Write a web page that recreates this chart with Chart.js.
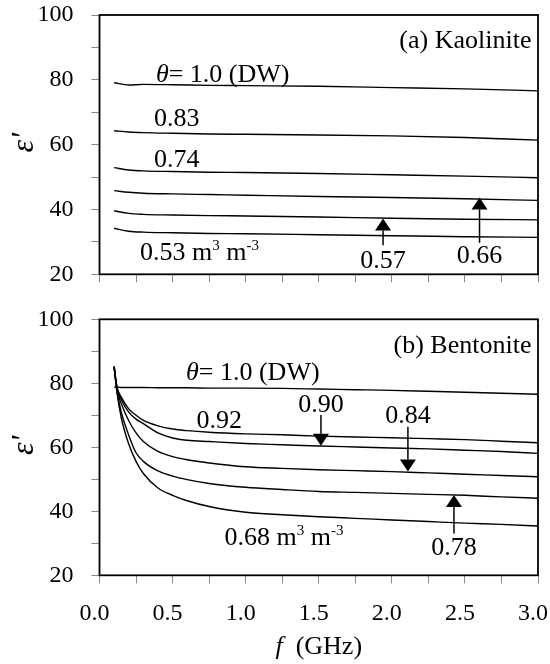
<!DOCTYPE html>
<html>
<head>
<meta charset="utf-8">
<script src="https://cdn.jsdelivr.net/npm/chart.js@4.4.1/dist/chart.umd.min.js"></script>
<style>
  body { margin: 0; background: #fff; }
  #wrap { position: relative; width: 550px; height: 664px; }
  canvas { position: absolute; left: 0; }
</style>
</head>
<body>
<div id="wrap">
  <canvas id="kao" width="550" height="300" style="top:0"></canvas>
  <canvas id="ben" width="550" height="364" style="top:300px"></canvas>
</div>
<script>
// (a) Kaolinite, permittivity vs frequency (GHz)
const kaoFreq = [0.1, 0.2, 0.3, 0.5, 0.75, 1.0, 1.5, 2.0, 2.5, 3.0];
const kaoDW  = [79.1, 78.4, 78.6, 78.5, 78.3, 78.2, 78.0, 77.6, 77.2, 76.6];
const kao083 = [64.3, 63.9, 63.7, 63.5, 63.3, 63.2, 63.0, 62.7, 62.2, 61.4];
const kao074 = [52.9, 52.2, 51.9, 51.7, 51.5, 51.4, 51.1, 50.7, 50.3, 49.8];
const kao066 = [45.8, 45.3, 45.0, 44.8, 44.6, 44.4, 44.0, 43.7, 43.3, 42.8];
const kao057 = [39.6, 38.8, 38.5, 38.3, 38.1, 38.0, 37.7, 37.3, 37.0, 36.8];
const kao053 = [34.2, 33.3, 33.0, 32.8, 32.6, 32.5, 32.2, 31.9, 31.6, 31.4];

// (b) Bentonite
const benFreq = [0.1, 0.12, 0.15, 0.2, 0.25, 0.3, 0.4, 0.5, 0.6, 0.75, 1.0, 1.25, 1.5, 1.75, 2.0, 2.25, 2.5, 2.75, 3.0];
const benDW  = [78.8, 78.8, 78.7, 78.7, 78.7, 78.7, 78.6, 78.6, 78.6, 78.5, 78.5, 78.4, 78.2, 78.0, 77.8, 77.5, 77.2, 76.9, 76.6];
const ben092 = [85.2, 78.8, 75.6, 72.0, 70.0, 68.4, 66.7, 65.7, 65.2, 64.7, 64.2, 63.9, 63.5, 63.2, 63.0, 62.7, 62.4, 61.9, 61.4];
const ben090 = [85.2, 78.5, 74.8, 71.0, 68.8, 67.4, 64.5, 62.9, 62.2, 61.8, 61.2, 60.8, 60.4, 60.1, 59.8, 59.5, 59.1, 58.7, 58.1];
const ben084 = [85.2, 78.0, 73.5, 68.3, 64.5, 61.8, 58.7, 57.1, 56.1, 55.1, 53.9, 53.4, 53.0, 52.7, 52.4, 52.0, 51.6, 51.2, 50.8];
const ben078 = [85.2, 77.4, 70.8, 63.8, 58.3, 55.6, 52.6, 51.0, 49.9, 48.7, 47.5, 46.8, 46.2, 45.9, 45.6, 45.3, 45.0, 44.5, 44.1];
const ben068 = [85.2, 77.0, 69.0, 61.0, 55.6, 51.8, 47.3, 45.0, 43.3, 41.5, 39.7, 38.9, 38.3, 37.8, 37.3, 36.8, 36.3, 35.9, 35.4];

const yTicks = [20, 40, 60, 80, 100];
const xTicks = [0.0, 0.5, 1.0, 1.5, 2.0, 2.5, 3.0];

const SERIF = '"Liberation Serif", "Times New Roman", serif';

function fontOf(p) {
  return (p.italic ? 'italic ' : '') + (p.sup ? 15 : 26) + 'px ' + SERIF;
}

function drawRich(ctx, x, y, parts, align) {
  const widths = parts.map(p => { ctx.font = fontOf(p); return ctx.measureText(p.t).width; });
  const total = widths.reduce((a, b) => a + b, 0);
  let cx = align === 'center' ? x - total / 2 : align === 'right' ? x - total : x;
  ctx.textAlign = 'left';
  ctx.textBaseline = 'alphabetic';
  parts.forEach((p, i) => {
    ctx.font = fontOf(p);
    ctx.fillText(p.t, cx, p.sup ? y - 10 : y);
    cx += widths[i];
  });
}

function drawArrow(ctx, xs, ys, a) {
  const px = xs.getPixelForValue(a.x);
  const y0 = ys.getPixelForValue(a.from);
  const y1 = ys.getPixelForValue(a.to);
  const dir = Math.sign(y1 - y0);
  const hl = 12, hw = 8;
  ctx.beginPath();
  ctx.moveTo(px, y0);
  ctx.lineTo(px, y1 - dir * hl);
  ctx.stroke();
  ctx.beginPath();
  ctx.moveTo(px, y1);
  ctx.lineTo(px - hw, y1 - dir * hl);
  ctx.lineTo(px + hw, y1 - dir * hl);
  ctx.closePath();
  ctx.fill();
}

const theta = [{ t: '\u03b8', italic: true }, { t: '= 1.0 (DW)' }];
const units = v => [{ t: v + ' m' }, { t: '3', sup: true }, { t: ' m' }, { t: '-3', sup: true }];

const kaoNotes = [
  { x: 2.955, y: 89.8, align: 'right', parts: [{ t: '(a) Kaolinite' }] },
  { x: 0.386, y: 79.3, align: 'left', parts: theta },
  { x: 0.373, y: 65.7, align: 'left', parts: [{ t: '0.83' }] },
  { x: 0.373, y: 53.2, align: 'left', parts: [{ t: '0.74' }] },
  { x: 0.277, y: 24.4, align: 'left', parts: units('0.53') },
  { x: 1.94, y: 21.9, align: 'center', parts: [{ t: '0.57' }] },
  { x: 2.60, y: 23.5, align: 'center', parts: [{ t: '0.66' }] }
];
const kaoArrows = [
  { x: 1.94, from: 29.0, to: 37.2 },
  { x: 2.60, from: 29.7, to: 43.7 }
];

const benNotes = [
  { x: 2.955, y: 89.4, align: 'right', parts: [{ t: '(b) Bentonite' }] },
  { x: 0.592, y: 81.0, align: 'left', parts: theta },
  { x: 0.663, y: 65.9, align: 'left', parts: [{ t: '0.92' }] },
  { x: 1.515, y: 71.1, align: 'center', parts: [{ t: '0.90' }] },
  { x: 2.11, y: 67.7, align: 'center', parts: [{ t: '0.84' }] },
  { x: 2.425, y: 26.3, align: 'center', parts: [{ t: '0.78' }] },
  { x: 0.856, y: 29.5, align: 'left', parts: units('0.68') }
];
const benArrows = [
  { x: 1.515, from: 70.1, to: 60.5 },
  { x: 2.11, from: 66.4, to: 52.4 },
  { x: 2.425, from: 33.1, to: 45.1 }
];

function notesPlugin(notes, arrows, xTitle) {
  return {
    id: 'notes',
    afterDraw(chart) {
      const ctx = chart.ctx;
      const a = chart.chartArea;
      const xs = chart.scales.x, ys = chart.scales.y;
      ctx.save();
      ctx.strokeStyle = '#000';
      ctx.fillStyle = '#000';
      ctx.lineWidth = 1.8;
      ctx.strokeRect(a.left, a.top, a.right - a.left, a.bottom - a.top);
      ctx.lineWidth = 1.5;
      arrows.forEach(ar => drawArrow(ctx, xs, ys, ar));
      notes.forEach(n => drawRich(ctx, xs.getPixelForValue(n.x), ys.getPixelForValue(n.y), n.parts, n.align));

      // y title: epsilon prime, rotated
      ctx.save();
      ctx.translate(33, (a.top + a.bottom) / 2 - 2);
      ctx.rotate(-Math.PI / 2);
      ctx.textAlign = 'center';
      ctx.textBaseline = 'alphabetic';
      ctx.font = 'italic 32px ' + SERIF;
      ctx.fillText("\u03b5'", 0, 0);
      ctx.restore();

      if (xTitle) {
        drawRich(ctx, (a.left + a.right) / 2, 354, [{ t: 'f', italic: true }, { t: '  (GHz)' }], 'center');
      }
      ctx.restore();
    }
  };
}

function makeChart(id, freq, series, showX, pad, xAxisH, notes, arrows) {
  const tickFont = { family: SERIF, size: 24 };
  return new Chart(document.getElementById(id), {
    type: 'line',
    data: {
      datasets: series.map(s => ({
        data: freq.map((f, i) => ({ x: f, y: s[i] })),
        borderColor: '#000',
        borderWidth: 1.4,
        pointRadius: 0,
        cubicInterpolationMode: 'monotone',
        fill: false
      }))
    },
    options: {
      responsive: false,
      animation: false,
      events: [],
      layout: { padding: pad },
      plugins: { legend: { display: false }, tooltip: { enabled: false } },
      scales: {
        x: {
          type: 'linear', min: 0, max: 3,
          ticks: {
            stepSize: 0.25, autoSkip: false, maxRotation: 0, font: tickFont, color: '#000', padding: 16,
            labelOffset: -5,
            callback: v => (showX && xTicks.includes(v)) ? v.toFixed(1) : ''
          },
          grid: { drawOnChartArea: false, tickLength: 8, color: '#888' },
          border: { display: false },
          afterFit: s => { s.height = xAxisH; s.paddingLeft = 0; s.paddingRight = 0; }
        },
        y: {
          min: 20, max: 100,
          ticks: {
            stepSize: 10, autoSkip: false, font: tickFont, color: '#000', padding: 18,
            callback: v => yTicks.includes(v) ? v : ''
          },
          grid: { drawOnChartArea: false, tickLength: 8, color: '#888' },
          border: { display: false },
          afterFit: s => { s.width = 99.5; s.paddingTop = 0; s.paddingBottom = 0; }
        }
      }
    },
    plugins: [notesPlugin(notes, arrows, showX)]
  });
}

makeChart('kao', kaoFreq, [kaoDW, kao083, kao074, kao066, kao057, kao053], false,
  { top: 15, right: 12, bottom: 0, left: 0 }, 25.7, kaoNotes, kaoArrows);
makeChart('ben', benFreq, [benDW, ben092, ben090, ben084, ben078, ben068], true,
  { top: 19.3, right: 12, bottom: 0, left: 0 }, 88.7, benNotes, benArrows);
</script>
</body>
</html>
